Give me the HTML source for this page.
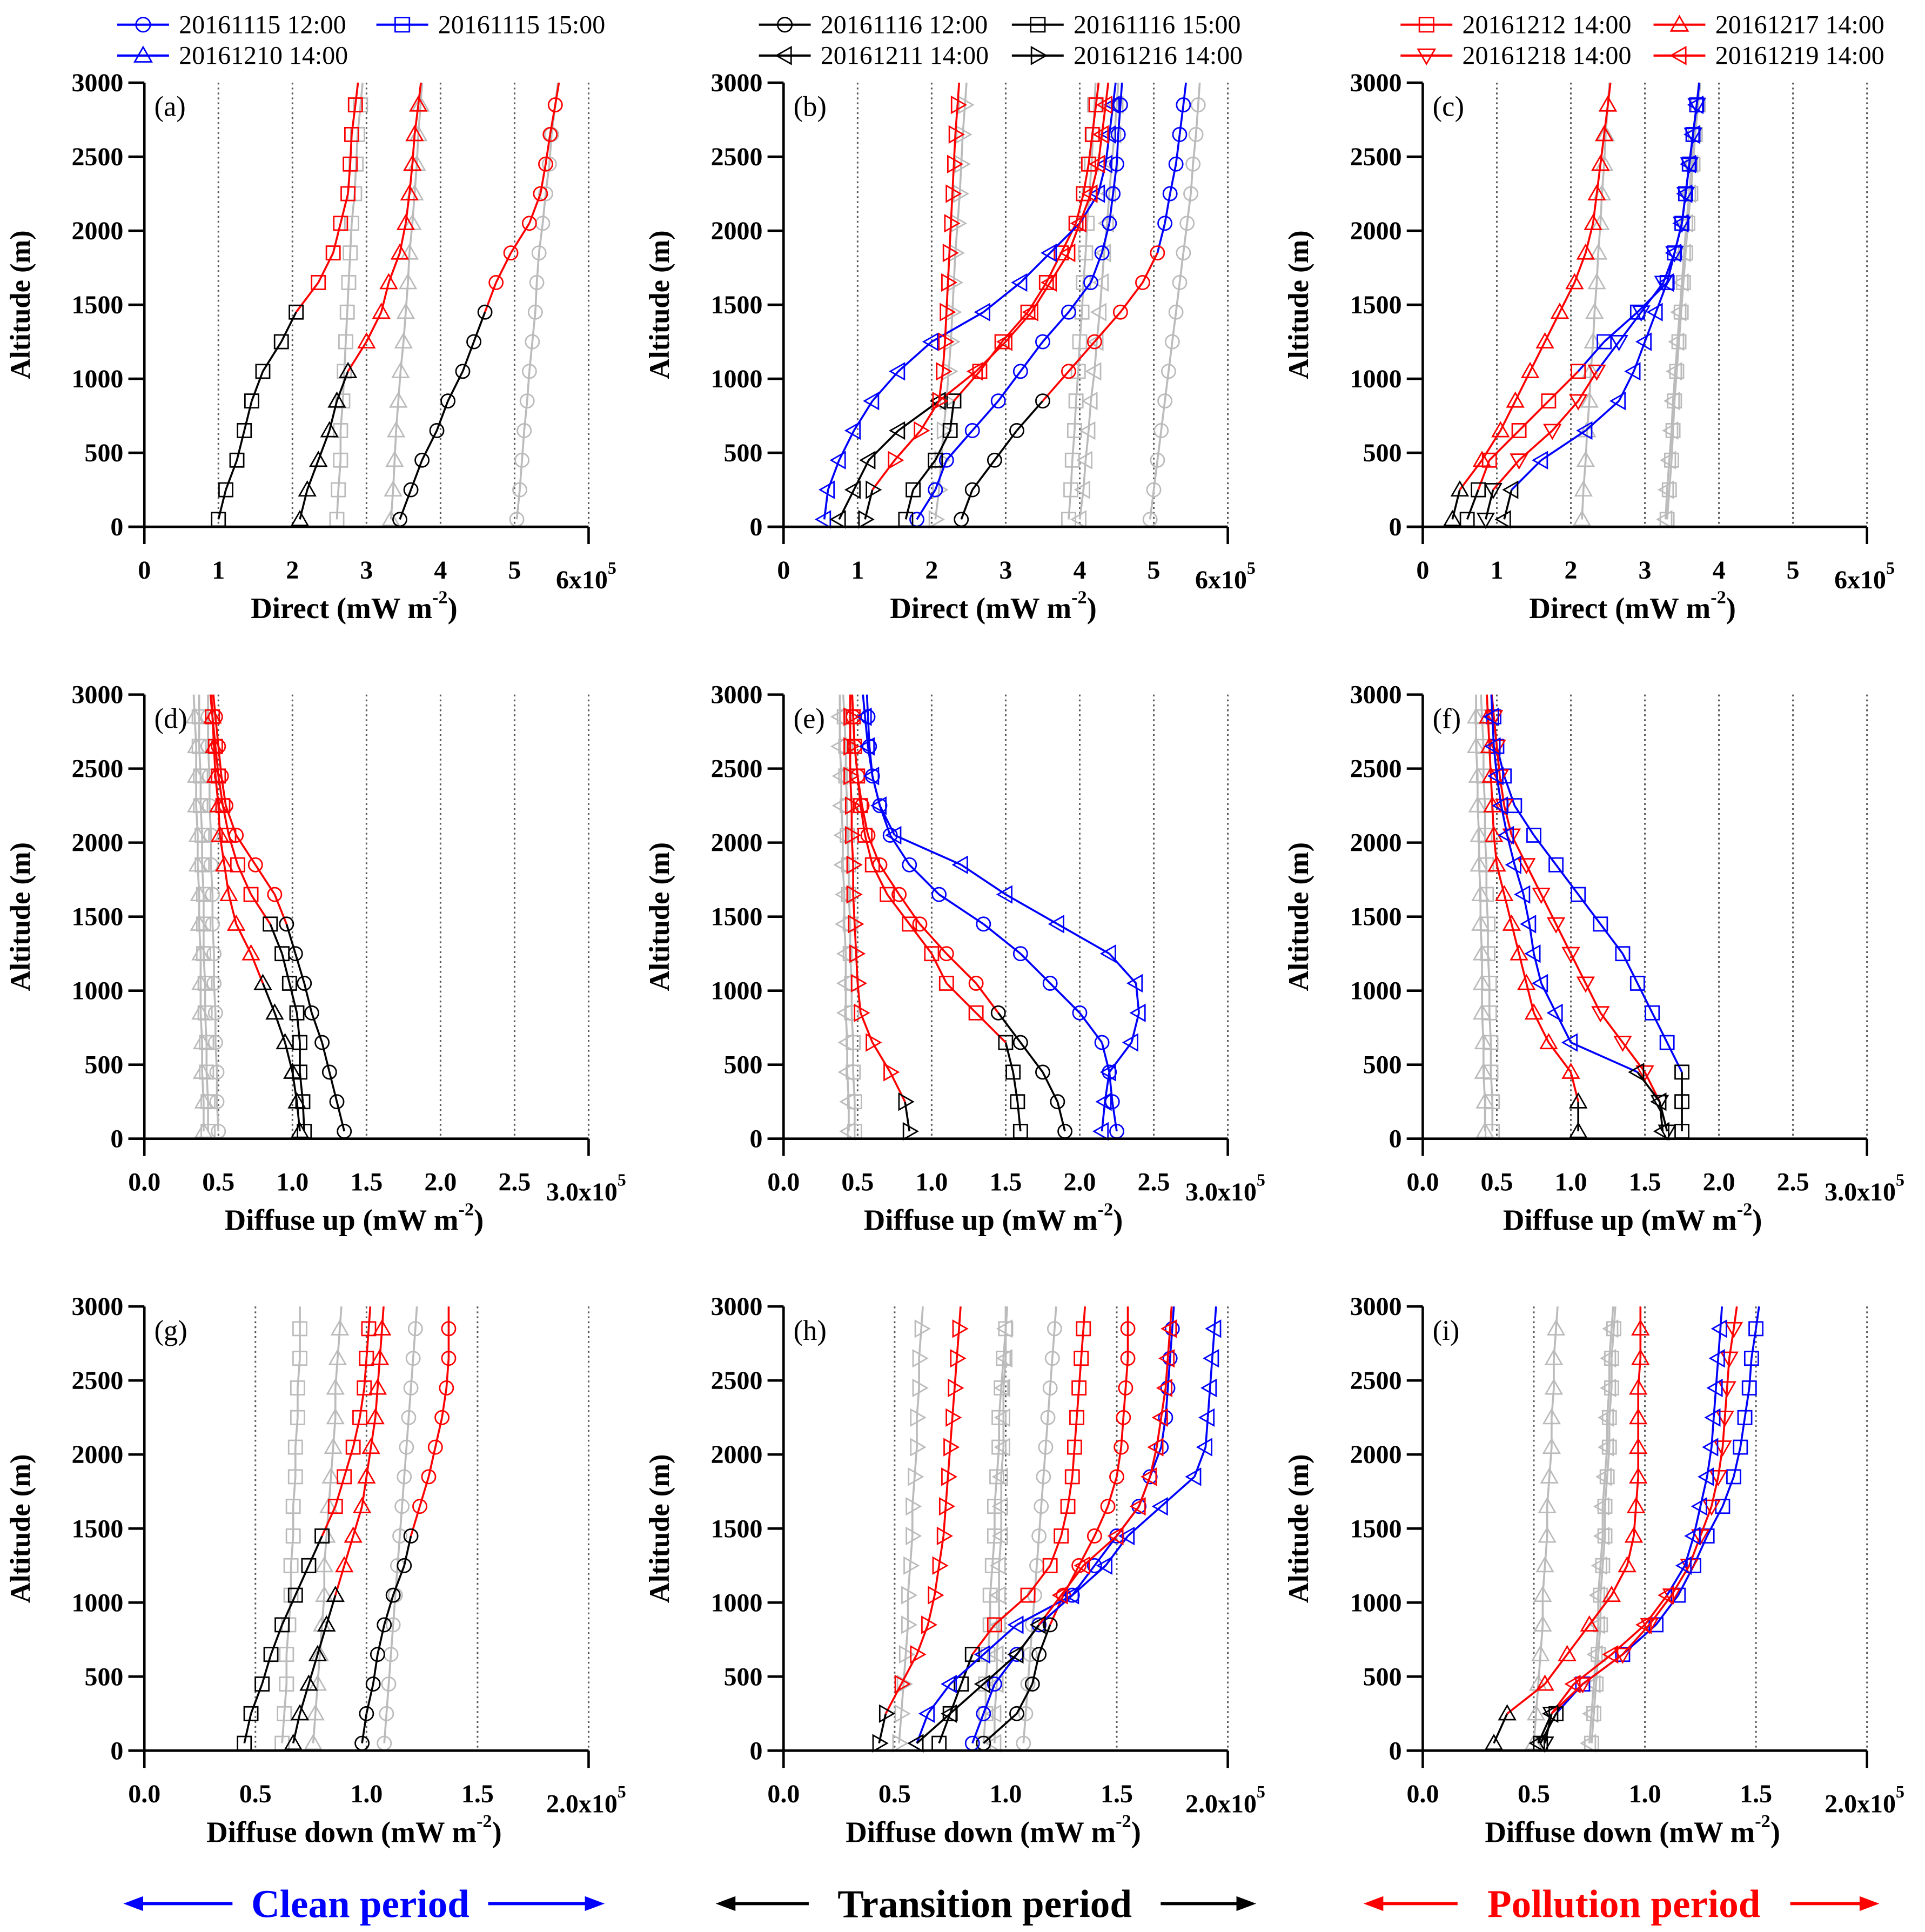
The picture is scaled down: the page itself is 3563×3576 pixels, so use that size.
<!DOCTYPE html>
<html><head><meta charset="utf-8"><style>
html,body{margin:0;padding:0;background:#fff}
svg{display:block}
text{font-family:"Liberation Serif",serif}
</style></head><body>
<svg id="chart" xmlns="http://www.w3.org/2000/svg" width="3563" height="3576" viewBox="0 0 1560 1566" preserveAspectRatio="none"></svg>
<script>
// ---------- data ----------
const altitudes = [50,250,450,650,850,1050,1250,1450,1650,1850,2050,2250,2450,2650,2850];
const yTicks = [0,500,1000,1500,2000,2500,3000];
const rowXMax = [6,3,2];
const rowXStep = [1,0.5,0.5];
const rowXTickLabels = [["0","1","2","3","4","5"],["0.0","0.5","1.0","1.5","2.0","2.5"],["0.0","0.5","1.0","1.5"]];
const rowXLastLabel = ["6x10","3.0x10","2.0x10"];
const rowXTitle = ["Direct (mW m","Diffuse up (mW m","Diffuse down (mW m"];
const panelLetters = ["(a)","(b)","(c)","(d)","(e)","(f)","(g)","(h)","(i)"];
const K='#000',R='#f00',B='#00f',G='#bbb';
function cs(spec){const a=[];spec.forEach(([c,n])=>{for(let i=0;i<n;i++)a.push(c)});return a;}

// panel a
const a_sq = [1.0,1.1,1.25,1.35,1.45,1.6,1.85,2.05,2.35,2.55,2.65,2.75,2.78,2.8,2.85];
const a_tri = [2.1,2.2,2.35,2.5,2.6,2.75,3.0,3.2,3.3,3.45,3.53,3.58,3.62,3.65,3.7];
const a_cir = [3.45,3.6,3.75,3.95,4.1,4.3,4.45,4.6,4.75,4.95,5.2,5.35,5.42,5.48,5.55];
const a_gsq = [2.6,2.62,2.65,2.65,2.68,2.7,2.72,2.74,2.76,2.78,2.8,2.84,2.86,2.88,2.92];
const a_gtri = [3.33,3.36,3.38,3.4,3.43,3.46,3.5,3.53,3.56,3.58,3.62,3.65,3.68,3.7,3.73];
const a_gcir = [5.03,5.07,5.1,5.13,5.17,5.2,5.24,5.28,5.3,5.33,5.38,5.42,5.47,5.5,5.55];
// panel b
const b_cir1 = [2.4,2.55,2.85,3.15,3.5,3.85,4.2,4.55,4.85,5.05,5.15,5.22,5.3,5.35,5.4];
const b_cir2 = [1.8,2.05,2.2,2.55,2.9,3.2,3.5,3.85,4.15,4.3,4.4,4.45,4.5,4.52,4.55];
const b_sq = [1.65,1.75,2.05,2.25,2.3,2.65,2.95,3.3,3.55,3.75,3.95,4.05,4.12,4.17,4.22];
const b_lt1 = [0.55,0.6,0.75,0.95,1.2,1.55,2.0,2.7,3.2,3.6,4.0,4.25,4.35,4.4,4.45];
const b_lt2 = [0.75,0.95,1.15,1.55,2.1,2.6,3.0,3.35,3.6,3.85,4.0,4.15,4.25,4.3,4.35];
const b_rt = [1.1,1.2,1.5,1.85,2.1,2.15,2.18,2.2,2.22,2.24,2.26,2.28,2.3,2.32,2.35];
const b_grt = [2.05,2.1,2.13,2.16,2.2,2.23,2.26,2.28,2.3,2.32,2.35,2.38,2.4,2.42,2.45];
const b_gsq = [3.85,3.88,3.9,3.93,3.95,3.98,4.0,4.03,4.05,4.08,4.1,4.13,4.16,4.18,4.2];
const b_glt = [4.0,4.05,4.08,4.12,4.15,4.2,4.23,4.27,4.3,4.33,4.37,4.4,4.43,4.47,4.5];
const b_gcir = [4.95,5.0,5.05,5.1,5.15,5.2,5.25,5.3,5.35,5.4,5.45,5.5,5.53,5.57,5.6];
// panel c
const c_sq = [0.6,0.75,0.9,1.3,1.7,2.1,2.45,2.9,3.3,3.4,3.5,3.55,3.6,3.65,3.7];
const c_ut = [0.4,0.5,0.8,1.05,1.25,1.45,1.65,1.85,2.05,2.2,2.3,2.35,2.4,2.45,2.5];
const c_dt = [0.85,0.95,1.3,1.75,2.1,2.35,2.65,2.95,3.25,3.4,3.5,3.55,3.6,3.65,3.7];
const c_lt = [1.1,1.2,1.6,2.2,2.65,2.85,3.0,3.15,3.3,3.4,3.5,3.55,3.6,3.65,3.7];
const c_gut = [2.15,2.17,2.2,2.22,2.25,2.27,2.3,2.32,2.35,2.37,2.4,2.42,2.45,2.47,2.5];
const c_gsq = [3.3,3.33,3.36,3.38,3.4,3.43,3.46,3.49,3.52,3.55,3.58,3.62,3.65,3.68,3.72];
const c_glt = [3.28,3.3,3.33,3.36,3.38,3.41,3.44,3.47,3.5,3.53,3.56,3.6,3.63,3.66,3.7];
// panel d
const d_cir = [1.35,1.3,1.25,1.2,1.13,1.08,1.02,0.96,0.88,0.75,0.62,0.55,0.52,0.5,0.48];
const d_sq = [1.08,1.07,1.05,1.05,1.03,0.98,0.93,0.85,0.72,0.63,0.57,0.53,0.5,0.48,0.46];
const d_tri = [1.05,1.03,1.0,0.95,0.88,0.8,0.72,0.62,0.57,0.54,0.51,0.5,0.48,0.47,0.46];
const d_g1 = [0.5,0.49,0.49,0.48,0.48,0.47,0.47,0.46,0.46,0.45,0.45,0.44,0.44,0.43,0.43];
const d_g2 = [0.43,0.43,0.42,0.42,0.41,0.41,0.4,0.4,0.4,0.39,0.39,0.38,0.38,0.37,0.37];
const d_g3 = [0.4,0.4,0.39,0.39,0.38,0.38,0.38,0.37,0.37,0.36,0.36,0.35,0.35,0.35,0.34];
// panel e
const e_cir1 = [1.9,1.85,1.75,1.6,1.45,1.3,1.1,0.92,0.78,0.65,0.57,0.53,0.5,0.48,0.47];
const e_cir2 = [2.25,2.22,2.2,2.15,2.0,1.8,1.6,1.35,1.05,0.85,0.72,0.65,0.6,0.58,0.57];
const e_sq = [1.6,1.58,1.55,1.5,1.3,1.1,1.0,0.85,0.7,0.6,0.55,0.52,0.5,0.48,0.47];
const e_lt = [2.15,2.17,2.2,2.35,2.4,2.38,2.2,1.85,1.5,1.2,0.75,0.65,0.6,0.57,0.55];
const e_rt = [0.85,0.82,0.72,0.6,0.52,0.5,0.49,0.48,0.47,0.47,0.46,0.46,0.45,0.45,0.45];
const e_g1 = [0.48,0.48,0.47,0.47,0.46,0.46,0.45,0.45,0.44,0.44,0.43,0.43,0.42,0.42,0.41];
const e_g2 = [0.44,0.44,0.43,0.43,0.42,0.42,0.42,0.41,0.41,0.4,0.4,0.39,0.39,0.38,0.38];
// panel f
const f_sq = [1.75,1.75,1.75,1.65,1.55,1.45,1.35,1.2,1.05,0.9,0.75,0.62,0.55,0.5,0.48];
const f_ut = [1.05,1.05,1.0,0.85,0.75,0.7,0.65,0.6,0.55,0.5,0.48,0.47,0.46,0.45,0.44];
const f_dt = [1.65,1.6,1.5,1.35,1.2,1.1,1.0,0.9,0.8,0.7,0.6,0.55,0.52,0.5,0.48];
const f_lt = [1.62,1.6,1.45,1.0,0.9,0.8,0.75,0.72,0.68,0.62,0.57,0.53,0.5,0.48,0.47];
const f_g1 = [0.47,0.47,0.46,0.46,0.45,0.45,0.44,0.44,0.43,0.43,0.42,0.42,0.41,0.41,0.4];
const f_g2 = [0.42,0.42,0.41,0.41,0.4,0.4,0.4,0.39,0.39,0.38,0.38,0.37,0.37,0.36,0.36];
// panel g
const g_cir = [0.98,1.0,1.03,1.05,1.08,1.12,1.17,1.2,1.24,1.28,1.31,1.34,1.36,1.37,1.37];
const g_sq = [0.45,0.48,0.53,0.57,0.62,0.68,0.74,0.8,0.86,0.9,0.94,0.97,0.99,1.0,1.01];
const g_tri = [0.67,0.7,0.74,0.78,0.82,0.86,0.9,0.94,0.98,1.0,1.02,1.04,1.05,1.06,1.07];
const g_gcir = [1.08,1.09,1.1,1.11,1.12,1.13,1.14,1.15,1.16,1.17,1.18,1.19,1.2,1.21,1.22];
const g_gsq = [0.62,0.63,0.64,0.64,0.65,0.66,0.66,0.67,0.67,0.68,0.68,0.69,0.69,0.7,0.7];
const g_gtri = [0.76,0.77,0.78,0.79,0.8,0.81,0.81,0.82,0.83,0.84,0.85,0.86,0.86,0.87,0.88];
// panel h
const h_cir1 = [0.9,1.05,1.12,1.15,1.2,1.26,1.33,1.4,1.46,1.5,1.52,1.53,1.54,1.55,1.55];
const h_cir2 = [0.85,0.9,0.95,1.05,1.15,1.3,1.4,1.5,1.6,1.65,1.7,1.72,1.73,1.74,1.75];
const h_sq = [0.7,0.75,0.8,0.85,0.95,1.1,1.2,1.25,1.28,1.3,1.31,1.32,1.33,1.34,1.35];
const h_lt1 = [0.6,0.65,0.75,0.9,1.05,1.3,1.45,1.55,1.7,1.85,1.9,1.91,1.92,1.93,1.94];
const h_lt2 = [0.6,0.75,0.9,1.05,1.15,1.25,1.35,1.5,1.6,1.65,1.68,1.7,1.72,1.73,1.74];
const h_rt = [0.43,0.46,0.53,0.6,0.65,0.68,0.7,0.72,0.73,0.74,0.75,0.76,0.77,0.78,0.79];
const h_grt = [0.52,0.53,0.54,0.55,0.56,0.56,0.57,0.58,0.58,0.59,0.6,0.6,0.61,0.61,0.62];
const h_gsq = [0.9,0.91,0.91,0.92,0.93,0.93,0.94,0.95,0.95,0.96,0.97,0.97,0.98,0.99,1.0];
const h_glt = [0.95,0.95,0.96,0.96,0.97,0.97,0.97,0.98,0.98,0.98,0.99,0.99,0.99,1.0,1.0];
const h_gcir = [1.08,1.09,1.1,1.11,1.12,1.13,1.14,1.15,1.16,1.17,1.18,1.19,1.2,1.21,1.22];
// panel i
const i_sq = [0.53,0.6,0.72,0.9,1.05,1.15,1.22,1.28,1.35,1.4,1.43,1.45,1.47,1.48,1.5];
const i_ut = [0.32,0.38,0.55,0.65,0.75,0.85,0.92,0.95,0.96,0.97,0.97,0.97,0.97,0.98,0.98];
const i_dt = [0.55,0.58,0.72,0.9,1.02,1.12,1.2,1.25,1.3,1.33,1.35,1.36,1.37,1.38,1.4];
const i_lt = [0.52,0.58,0.68,0.85,1.0,1.1,1.18,1.22,1.25,1.28,1.3,1.31,1.32,1.33,1.34];
const i_gut = [0.5,0.51,0.52,0.53,0.54,0.54,0.55,0.56,0.56,0.57,0.58,0.58,0.59,0.59,0.6];
const i_gsq = [0.76,0.77,0.78,0.79,0.8,0.8,0.81,0.82,0.82,0.83,0.84,0.84,0.85,0.85,0.86];
const i_glt = [0.75,0.76,0.77,0.78,0.79,0.79,0.8,0.81,0.81,0.82,0.83,0.83,0.84,0.84,0.85];

const panels = [
 [[a_gsq,'sq',cs([[G,15]])],[a_gtri,'ut',cs([[G,15]])],[a_gcir,'ci',cs([[G,15]])],
  [a_sq,'sq',cs([[K,8],[R,7]])],[a_tri,'ut',cs([[K,6],[R,9]])],[a_cir,'ci',cs([[K,8],[R,7]])]],
 [[b_grt,'rt',cs([[G,15]])],[b_gsq,'sq',cs([[G,15]])],[b_glt,'lt',cs([[G,15]])],[b_gcir,'ci',cs([[G,15]])],
  [b_cir1,'ci',cs([[K,5],[R,5],[B,5]])],[b_cir2,'ci',cs([[B,15]])],[b_sq,'sq',cs([[K,5],[R,10]])],
  [b_lt1,'lt',cs([[B,15]])],[b_lt2,'lt',cs([[K,5],[R,10]])],[b_rt,'rt',cs([[K,2],[R,13]])]],
 [[c_gut,'ut',cs([[G,15]])],[c_gsq,'sq',cs([[G,15]])],[c_glt,'lt',cs([[G,15]])],
  [c_sq,'sq',cs([[K,2],[R,4],[B,9]])],[c_ut,'ut',cs([[K,2],[R,13]])],[c_dt,'dt',cs([[K,2],[R,4],[B,9]])],[c_lt,'lt',cs([[K,2],[B,13]])]],
 [[d_g1,'ci',cs([[G,15]])],[d_g2,'sq',cs([[G,15]])],[d_g3,'ut',cs([[G,15]])],
  [d_cir,'ci',cs([[K,8],[R,7]])],[d_sq,'sq',cs([[K,8],[R,7]])],[d_tri,'ut',cs([[K,6],[R,9]])]],
 [[e_g1,'sq',cs([[G,15]])],[e_g2,'lt',cs([[G,15]])],
  [e_cir1,'ci',cs([[K,5],[R,10]])],[e_cir2,'ci',cs([[B,15]])],[e_sq,'sq',cs([[K,4],[R,11]])],[e_lt,'lt',cs([[B,15]])],[e_rt,'rt',cs([[K,2],[R,13]])]],
 [[f_g1,'sq',cs([[G,15]])],[f_g2,'ut',cs([[G,15]])],
  [f_sq,'sq',cs([[K,3],[B,12]])],[f_ut,'ut',cs([[K,2],[R,13]])],[f_dt,'dt',cs([[K,2],[R,13]])],[f_lt,'lt',cs([[K,3],[B,12]])]],
 [[g_gcir,'ci',cs([[G,15]])],[g_gsq,'sq',cs([[G,15]])],[g_gtri,'ut',cs([[G,15]])],
  [g_cir,'ci',cs([[K,8],[R,7]])],[g_sq,'sq',cs([[K,8],[R,7]])],[g_tri,'ut',cs([[K,6],[R,9]])]],
 [[h_grt,'rt',cs([[G,15]])],[h_gsq,'sq',cs([[G,15]])],[h_glt,'lt',cs([[G,15]])],[h_gcir,'ci',cs([[G,15]])],
  [h_cir1,'ci',cs([[K,5],[R,10]])],[h_cir2,'ci',cs([[B,15]])],[h_sq,'sq',cs([[K,4],[R,11]])],
  [h_lt1,'lt',cs([[B,15]])],[h_lt2,'lt',cs([[K,5],[R,10]])],[h_rt,'rt',cs([[K,2],[R,13]])]],
 [[i_gut,'ut',cs([[G,15]])],[i_gsq,'sq',cs([[G,15]])],[i_glt,'lt',cs([[G,15]])],
  [i_sq,'sq',cs([[K,2],[B,13]])],[i_ut,'ut',cs([[K,2],[R,13]])],[i_dt,'dt',cs([[K,2],[R,13]])],[i_lt,'lt',cs([[K,2],[R,4],[B,9]])]]
];

const legends = [
 {color:B, x:[95,305], items:[["ci","20161115 12:00",0,0],["sq","20161115 15:00",1,0],["ut","20161210 14:00",0,1]]},
 {color:K, x:[615,820], items:[["ci","20161116 12:00",0,0],["sq","20161116 15:00",1,0],["lt","20161211 14:00",0,1],["rt","20161216 14:00",1,1]]},
 {color:R, x:[1135,1340], items:[["sq","20161212 14:00",0,0],["ut","20161217 14:00",1,0],["dt","20161218 14:00",0,1],["lt","20161219 14:00",1,1]]}
];

// ---------- drawing ----------
const NS='http://www.w3.org/2000/svg';
const svg=document.getElementById('chart');
function mk(tag,attrs,parent,txt){const e=document.createElementNS(NS,tag);for(const k in attrs)e.setAttribute(k,attrs[k]);if(txt!=null)e.textContent=txt;(parent||svg).appendChild(e);return e;}
function marker(g,type,x,y,c,s){
  s=s||1;let e;
  if(type==='ci') e=mk('circle',{cx:x,cy:y,r:5.5*s,fill:'none',stroke:c,'stroke-width':1.2},g);
  else if(type==='sq') e=mk('rect',{x:x-5.5*s,y:y-5.5*s,width:11*s,height:11*s,fill:'none',stroke:c,'stroke-width':1.2},g);
  else {const r=6.5*s;let p;
    if(type==='ut') p=[[x,y-r],[x+r,y+r*0.75],[x-r,y+r*0.75]];
    if(type==='dt') p=[[x,y+r],[x+r,y-r*0.75],[x-r,y-r*0.75]];
    if(type==='lt') p=[[x-r,y],[x+r*0.75,y-r],[x+r*0.75,y+r]];
    if(type==='rt') p=[[x+r,y],[x-r*0.75,y-r],[x-r*0.75,y+r]];
    e=mk('polygon',{points:p.map(q=>q.join(',')).join(' '),fill:'none',stroke:c,'stroke-width':1.2},g);}
  
  
  return e;
}
const colX=[117,635,1153], rowY=[67,563,1059], W=360, H=360;
for(let p=0;p<9;p++){
  const col=p%3,row=Math.floor(p/3);
  const x0=colX[col], y0=rowY[row], xmax=rowXMax[row];
  const xs=v=>x0+v/xmax*W, ys=a=>y0+H-a/3000*H;
  const g=mk('g',{});
  
  
  for(let v=rowXStep[row];v<=xmax+1e-9;v+=rowXStep[row]){
    const l=mk('line',{x1:xs(v),x2:xs(v),y1:y0,y2:y0+H,stroke:'#555','stroke-width':1.3,'stroke-dasharray':'1.5,2.5'},g);
    
    
  }
  panels[p].forEach(([vals,m,cols])=>{
    const sg=mk('g',{},g);
    
    
    for(let i=0;i<vals.length-1;i++)
      mk('line',{x1:xs(vals[i]),y1:ys(altitudes[i]),x2:xs(vals[i+1]),y2:ys(altitudes[i+1]),stroke:cols[i+1],'stroke-width':1.6},sg);
    const ex=vals[14]+(vals[14]-vals[13])*0.7;
    mk('line',{x1:xs(vals[14]),y1:ys(2850),x2:xs(ex),y2:ys(3000),stroke:cols[14],'stroke-width':1.6},sg);
    vals.forEach((v,i)=>marker(sg,m,xs(v),ys(altitudes[i]),cols[i]));
  });
  const ax=mk('g',{},g);
  
  
  mk('line',{x1:x0,x2:x0,y1:y0,y2:y0+H,stroke:'#000','stroke-width':2},ax);
  mk('line',{x1:x0-13,x2:x0+W,y1:y0+H,y2:y0+H,stroke:'#000','stroke-width':2},ax);
  mk('line',{x1:x0,x2:x0,y1:y0+H,y2:y0+H+14,stroke:'#000','stroke-width':2},ax);
  mk('line',{x1:x0+W,x2:x0+W,y1:y0+H,y2:y0+H+14,stroke:'#000','stroke-width':2},ax);
  yTicks.forEach(t=>{
    mk('line',{x1:x0-13,x2:x0,y1:ys(t),y2:ys(t),stroke:'#000','stroke-width':2},ax);
    mk('text',{x:x0-17,y:ys(t)+7,'text-anchor':'end','font-size':21,'font-weight':'bold'},ax,String(t));
  });
  rowXTickLabels[row].forEach((lab,i)=>{
    mk('text',{x:xs(i*rowXStep[row]),y:y0+H+42,'text-anchor':'middle','font-size':21,'font-weight':'bold'},ax,lab);
  });
  const lt=mk('text',{x:x0+W-2,y:y0+H+50,'text-anchor':'middle','font-size':21,'font-weight':'bold'},ax,rowXLastLabel[row]);
  mk('tspan',{dy:-12,'font-size':14},lt,'5');
  const xt=mk('text',{x:x0+W/2-10,y:y0+H+74,'text-anchor':'middle','font-size':24,'font-weight':'bold'},ax,rowXTitle[row]);
  
  
  mk('tspan',{dy:-12,'font-size':15},xt,'-2');
  mk('tspan',{dy:12},xt,')');
  const yt=mk('text',{x:0,y:0,transform:`translate(${x0-93},${y0+H/2}) rotate(-90)`,'text-anchor':'middle','font-size':23,'font-weight':'bold'},ax,'Altitude (m)');
  
  
  mk('text',{x:x0+8,y:y0+27,'font-size':23},ax,panelLetters[p]);
}
legends.forEach((L,li)=>{
  const g=mk('g',{});
  
  
  L.items.forEach(([m,lab,c,r])=>{
    const x=L.x[c], y=20+r*25;
    const e=mk('g',{},g);
    
    
    mk('line',{x1:x,x2:x+42,y1:y,y2:y,stroke:L.color,'stroke-width':1.8},e);
    marker(e,m,x+21,y,L.color,1.05);
    mk('text',{x:x+50,y:y+7,'font-size':21},e,lab);
  });
});
const periods=[["Clean period",B,100,490,292],["Transition period",K,580,1018,798],["Pollution period",R,1105,1523,1316]];
periods.forEach(([t,c,xa,xb,xm])=>{
  const g=mk('g',{});
  
  
  const y=1543;
  const tw=t.length*7.8+10;
  mk('line',{x1:xa+10,x2:xm-tw,y1:y,y2:y,stroke:c,'stroke-width':2.5},g);
  mk('polygon',{points:`${xa},${y} ${xa+16},${y-6} ${xa+16},${y+6}`,fill:c},g);
  mk('line',{x1:xm+tw,x2:xb-10,y1:y,y2:y,stroke:c,'stroke-width':2.5},g);
  mk('polygon',{points:`${xb},${y} ${xb-16},${y-6} ${xb-16},${y+6}`,fill:c},g);
  mk('text',{x:xm,y:y+11,'text-anchor':'middle','font-size':32,'font-weight':'bold',fill:c},g,t);
});
</script>
</body></html>
